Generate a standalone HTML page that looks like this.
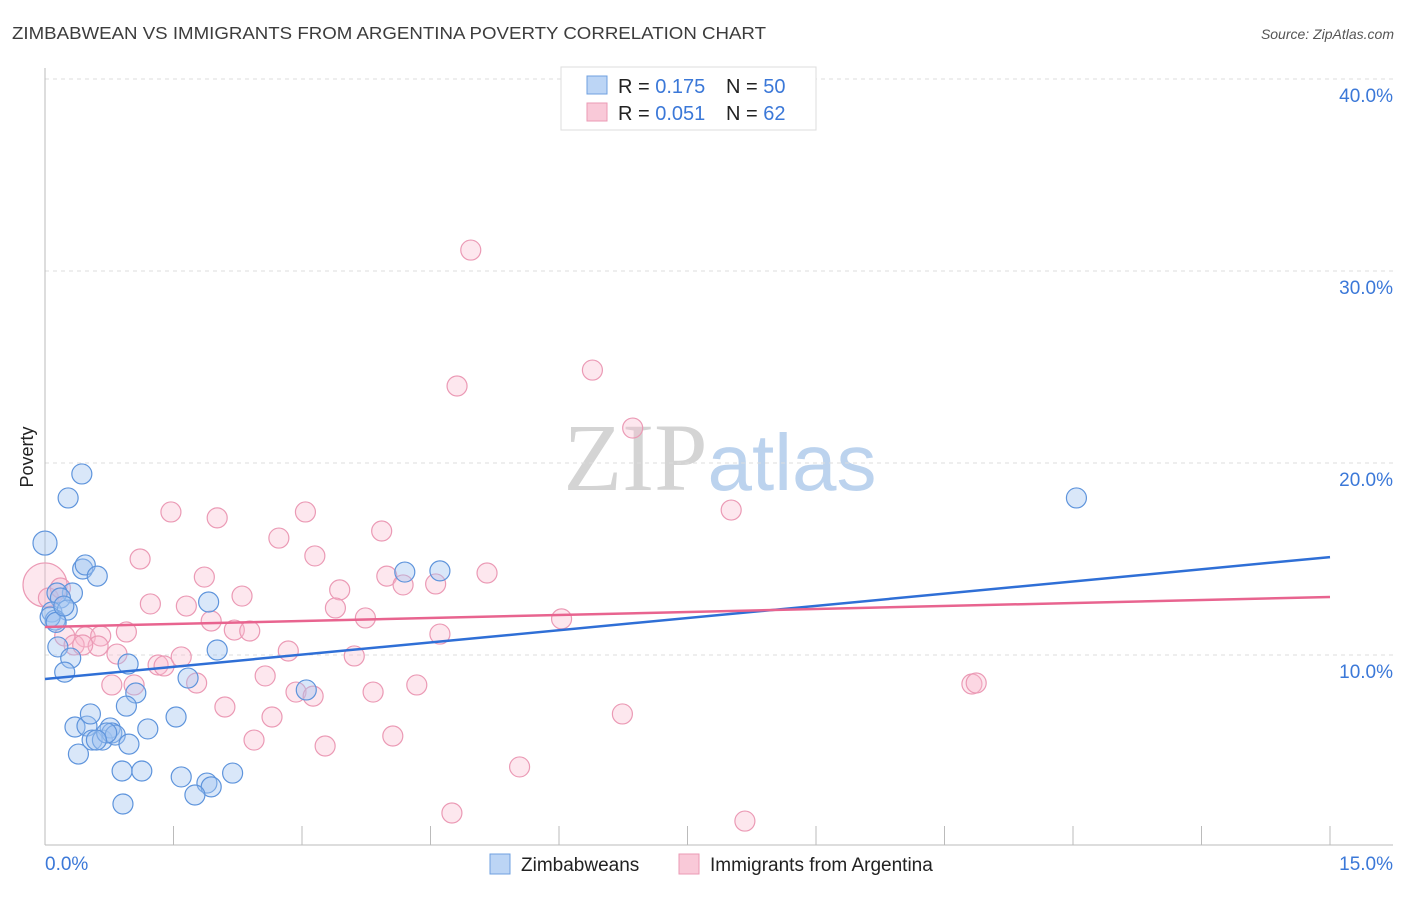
<!DOCTYPE html>
<html><head><meta charset="utf-8"><style>
body{margin:0;background:#fff;font-family:"Liberation Sans",sans-serif;}
</style></head><body>
<svg id="chart" width="1406" height="892" xmlns="http://www.w3.org/2000/svg" font-family="Liberation Sans, sans-serif">
<text x="12" y="39" font-size="17.5" fill="#3c3c3c" textLength="754" lengthAdjust="spacingAndGlyphs">ZIMBABWEAN VS IMMIGRANTS FROM ARGENTINA POVERTY CORRELATION CHART</text>
<text x="1394" y="39" font-size="14" font-style="italic" fill="#555" text-anchor="end">Source: ZipAtlas.com</text>
<text x="720" y="490" font-size="96" text-anchor="middle"><tspan fill="#d4d4d4" font-family="Liberation Serif, serif">ZIP</tspan><tspan fill="#bcd3ee" font-size="80">atlas</tspan></text>
<text transform="translate(33,457) rotate(-90)" font-size="18" fill="#222" text-anchor="middle">Poverty</text>
<g id="grid"></g><g id="axes"></g><g id="pts"></g><g id="lines"></g>
<g>
<rect x="561" y="67" width="255" height="63" fill="#fff" stroke="#ddd"/>
<rect x="587" y="76" width="20" height="18" fill="#bcd5f5" stroke="#6fa0e0"/>
<rect x="587" y="103" width="20" height="18" fill="#f9c9d8" stroke="#eb9ab5"/>
<text x="618" y="93" font-size="20" fill="#222">R = <tspan fill="#3b78d8">0.175</tspan></text>
<text x="726" y="93" font-size="20" fill="#222">N = <tspan fill="#3b78d8">50</tspan></text>
<text x="618" y="120" font-size="20" fill="#222">R = <tspan fill="#3b78d8">0.051</tspan></text>
<text x="726" y="120" font-size="20" fill="#222">N = <tspan fill="#3b78d8"> 62</tspan></text>
</g>
<g>
<rect x="490" y="854" width="20" height="20" fill="#bcd5f5" stroke="#6fa0e0"/>
<text x="521" y="871" font-size="19" fill="#222">Zimbabweans</text>
<rect x="679" y="854" width="20" height="20" fill="#f9c9d8" stroke="#eb9ab5"/>
<text x="710" y="871" font-size="19" fill="#222">Immigrants from Argentina</text>
</g>
</svg>
<script>
const blueX=[0.43,0.27,0.0,0.44,0.47,0.61,0.32,0.14,0.18,0.08,0.26,0.12,0.06,0.15,0.30,0.23,0.97,1.91,2.01,1.67,1.06,0.95,3.05,1.20,1.53,0.35,0.39,0.49,0.53,0.55,0.67,0.76,0.78,0.82,0.72,0.98,0.90,1.13,1.59,1.89,1.94,2.19,1.75,0.91,4.20,4.61,12.04,0.13,0.22,0.60];
const blueY=[19.43,18.18,15.83,14.48,14.69,14.11,13.23,13.23,12.97,12.24,12.34,11.82,11.98,10.42,9.84,9.11,9.53,12.76,10.26,8.80,8.02,7.34,8.18,6.15,6.77,6.25,4.84,6.30,6.93,5.57,5.57,6.20,5.94,5.83,5.94,5.36,3.96,3.96,3.65,3.33,3.13,3.85,2.71,2.24,14.32,14.38,18.18,11.7,12.55,5.57];
const pinkX=[0.0,4.97,6.39,4.81,6.86,8.01,1.47,2.01,3.04,3.93,2.73,3.15,1.11,1.86,3.99,5.16,4.18,4.56,3.44,2.30,1.23,1.65,3.39,3.74,1.94,6.03,2.21,2.39,0.95,0.23,0.47,0.65,4.61,0.34,0.62,0.44,0.84,2.84,3.61,1.32,1.39,1.59,2.57,0.78,1.04,1.77,4.34,2.93,3.13,3.83,10.82,10.87,2.10,2.65,6.74,2.44,3.27,4.06,5.54,4.75,8.17,0.04,0.18];
const pinkY=[13.65,31.09,24.84,24.01,21.82,17.55,17.45,17.14,17.45,16.46,16.09,15.16,15.0,14.06,14.11,14.27,13.65,13.70,13.39,13.07,12.66,12.55,12.45,11.93,11.77,11.88,11.30,11.25,11.20,10.99,10.94,10.99,11.09,10.52,10.47,10.52,10.05,10.21,9.95,9.48,9.43,9.90,8.91,8.44,8.44,8.54,8.44,8.07,7.86,8.07,8.49,8.54,7.29,6.77,6.93,5.57,5.26,5.78,4.17,1.77,1.35,12.97,13.49];
const yTicks=[10,20,30,40];
const yTickLabels=["10.0%","20.0%","30.0%","40.0%"];
const xTicks=[0,1.5,3,4.5,6,7.5,9,10.5,12,13.5,15];
const blueTrend=[8.75,15.1];
const pinkTrend=[11.46,13.02];
const NS="http://www.w3.org/2000/svg";
const X0=45,X1=1330,Y0=847,PPY=19.2;
const sx=v=>X0+(X1-X0)*v/15, sy=v=>Y0-v*PPY;
function mk(tag,attrs,parent){const e=document.createElementNS(NS,tag);for(const k in attrs)e.setAttribute(k,attrs[k]);document.getElementById(parent).appendChild(e);return e;}
yTicks.forEach((t,i)=>{
 const l=mk('line',{x1:45,x2:1393,y1:sy(t),y2:sy(t),stroke:'#ddd','stroke-dasharray':'4,4'},'grid');
 
 
 const tx=mk('text',{x:1393,y:sy(t)+23,'font-size':19,fill:'#3b78d8','text-anchor':'end'},'grid');
 tx.textContent=yTickLabels[i];
 
 
});
let a=mk('line',{x1:45,x2:45,y1:68,y2:845,stroke:'#bbb'},'axes');


a=mk('line',{x1:45,x2:1393,y1:845,y2:845,stroke:'#bbb'},'axes');


xTicks.forEach(t=>{const l=mk('line',{x1:sx(t),x2:sx(t),y1:826,y2:845,stroke:'#bbb'},'axes');
 
 });
let t0=mk('text',{x:45,y:870,'font-size':19,fill:'#3b78d8'},'axes');t0.textContent='0.0%';


let t1=mk('text',{x:1393,y:870,'font-size':19,fill:'#3b78d8','text-anchor':'end'},'axes');t1.textContent='15.0%';


pinkX.forEach((x,i)=>{const c=mk('circle',{cx:sx(x),cy:sy(pinkY[i]),r:i===0?22:10,fill:'rgba(248,185,205,0.35)',stroke:'#eb9ab5','stroke-width':1.2},'pts');
 
 });
blueX.forEach((x,i)=>{const c=mk('circle',{cx:sx(x),cy:sy(blueY[i]),r:i===2?12:10,fill:'rgba(160,195,240,0.4)',stroke:'#5e94dc','stroke-width':1.2},'pts');
 
 });
let bl=mk('line',{x1:sx(0),y1:sy(blueTrend[0]),x2:sx(15),y2:sy(blueTrend[1]),stroke:'#2f6fd6','stroke-width':2.5},'lines');


let pl=mk('line',{x1:sx(0),y1:sy(pinkTrend[0]),x2:sx(15),y2:sy(pinkTrend[1]),stroke:'#e8648f','stroke-width':2.5},'lines');


</script>
</body></html>
